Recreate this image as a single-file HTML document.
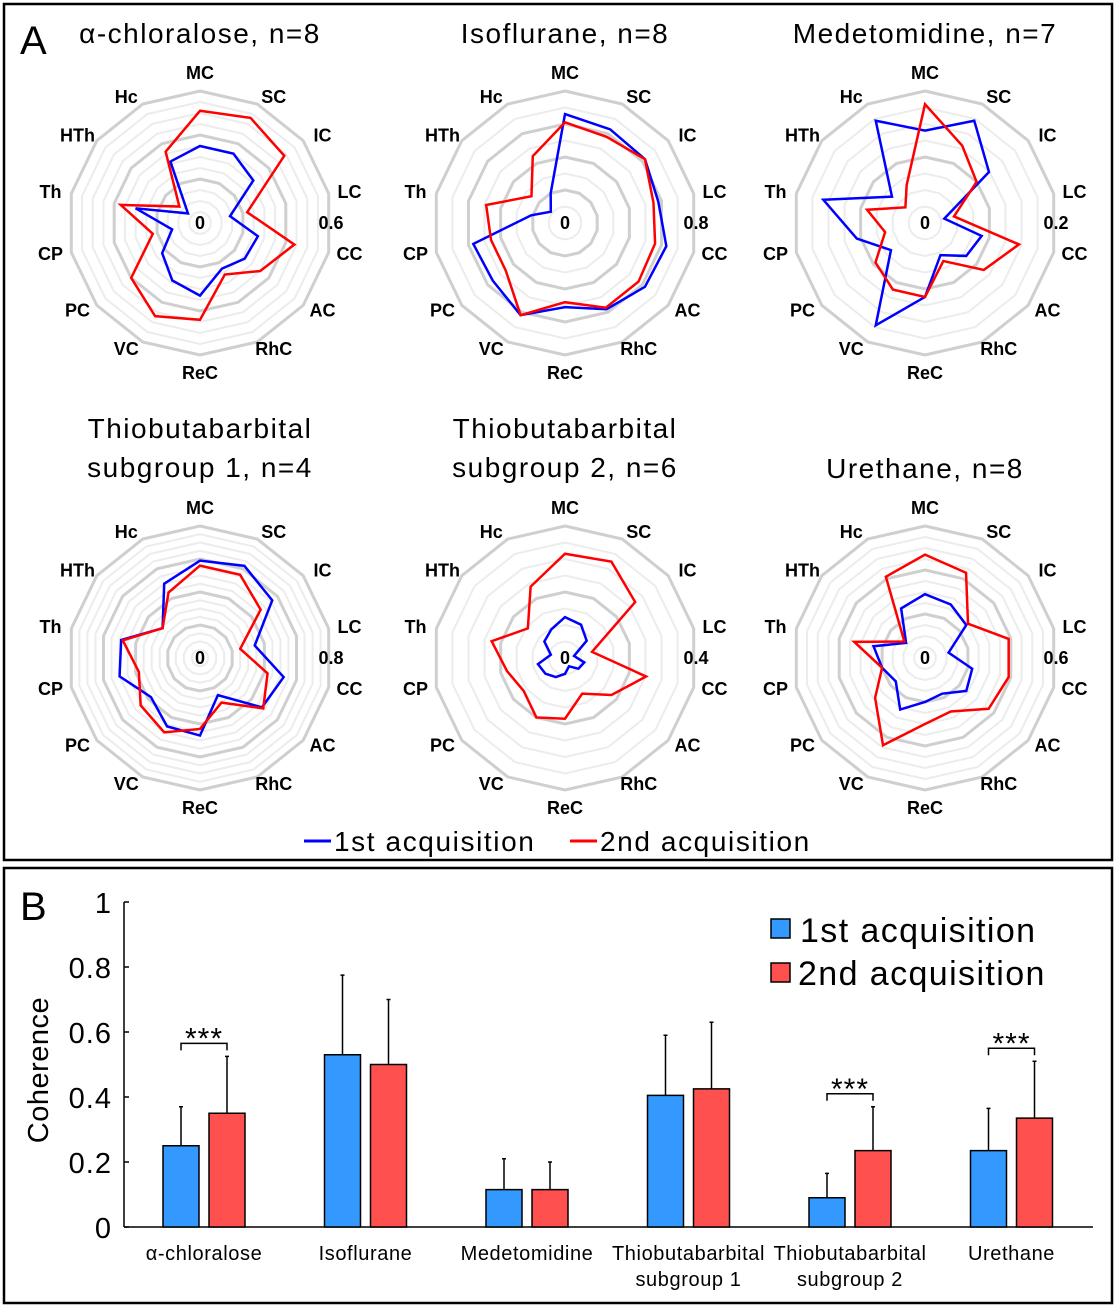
<!DOCTYPE html>
<html><head><meta charset="utf-8"><style>
body{margin:0;background:#fff;width:1118px;height:1310px;overflow:hidden;font-family:"Liberation Sans",Arial,sans-serif}
svg{display:block}
</style></head><body>
<svg id="fig" width="1118" height="1310" xmlns="http://www.w3.org/2000/svg" font-family="Liberation Sans, Arial, sans-serif">
<rect x="4" y="4" width="1108" height="856" fill="none" stroke="#000" stroke-width="2.5"/>
<rect x="4" y="868" width="1108" height="435" fill="none" stroke="#000" stroke-width="2.5"/>
<text x="20" y="54" font-size="40">A</text>
<text x="20" y="920" font-size="40">B</text>
<g id="radars"></g>
<g>
<line x1="304" y1="841" x2="331" y2="841" stroke="#0000ff" stroke-width="3"/>
<text x="334" y="851" font-size="28" letter-spacing="1.6">1st acquisition</text>
<line x1="570" y1="841" x2="597" y2="841" stroke="#ff0000" stroke-width="3"/>
<text x="600" y="851" font-size="28" letter-spacing="1.6">2nd acquisition</text>
</g>
<g id="bars"></g>
<g>
<rect x="771" y="919" width="19" height="19" fill="#3399ff" stroke="#000" stroke-width="1.5"/>
<text x="800" y="942" font-size="34" letter-spacing="1.4">1st acquisition</text>
<rect x="771" y="963" width="19" height="19" fill="#ff5050" stroke="#000" stroke-width="1.5"/>
<text x="798" y="985" font-size="34" letter-spacing="1.4">2nd acquisition</text>
</g>
</svg>
<script>
const NS="http://www.w3.org/2000/svg";
const regions=["MC","SC","IC","LC","CC","AC","RhC","ReC","VC","PC","CP","Th","HTh","Hc"];
const radarTitles=[["α-chloralose, n=8"],["Isoflurane, n=8"],["Medetomidine, n=7"],["Thiobutabarbital","subgroup 1, n=4"],["Thiobutabarbital","subgroup 2, n=6"],["Urethane, n=8"]];
const radarMax=[0.6,0.8,0.2,0.8,0.4,0.6];
const radarMinor=[0.05,0.1,0.025,0.05,0.05,0.05];
const radarMajor=[0.2,0.2,0.1,0.2,0.2,0.2];
const chlorFirst=[.35,.35,.31,.14,.27,.26,.23,.33,.29,.22,.13,.30,.07,.31];
const chlorSecond=[.51,.53,.49,.22,.44,.35,.26,.44,.47,.40,.22,.37,.12,.36];
const isoFirst=[.66,.63,.62,.58,.63,.62,.58,.51,.62,.56,.57,.21,.11,.20];
const isoSecond=[.61,.58,.62,.55,.56,.57,.57,.48,.62,.46,.46,.49,.26,.45];
const medFirst=[.14,.172,.124,.03,.088,.08,.054,.112,.172,.066,.106,.158,.064,.172];
const medSecond=[.18,.13,.10,.045,.146,.114,.064,.112,.112,.096,.062,.09,.038,.064];
const thio1First=[.59,.62,.56,.34,.52,.48,.25,.47,.46,.38,.50,.49,.29,.50];
const thio1Second=[.56,.56,.47,.25,.42,.49,.30,.43,.50,.46,.38,.48,.29,.44];
const thio2First=[.124,.112,.084,.028,.06,.052,.028,.048,.064,.076,.084,.044,.08,.096];
const thio2Second=[.316,.324,.272,.084,.252,.18,.12,.184,.2,.16,.18,.228,.144,.24];
const ureFirst=[.29,.27,.24,.11,.22,.24,.18,.20,.26,.17,.20,.24,.11,.25];
const ureSecond=[.47,.43,.25,.39,.39,.37,.27,.30,.44,.29,.20,.33,.12,.41];
const radarFirst=[chlorFirst,isoFirst,medFirst,thio1First,thio2First,ureFirst];
const radarSecond=[chlorSecond,isoSecond,medSecond,thio1Second,thio2Second,ureSecond];

function mk(tag,attrs,parent){const e=document.createElementNS(NS,tag);for(const k in attrs)e.setAttribute(k,attrs[k]);parent.appendChild(e);return e;}
const R=132, N=regions.length;
function ang(i){return i*2*Math.PI/N;}
function pt(cx,cy,r,i){return [cx+r*Math.sin(ang(i)),cy-r*Math.cos(ang(i))];}
function ring(cx,cy,r){let s=[];for(let i=0;i<N;i++){s.push(pt(cx,cy,r,i).join(","));}return s.join(" ");}
const radG=document.getElementById("radars");
const centers=[[200,223],[565,223],[925,223],[200,658],[565,658],[925,658]];
radarTitles.forEach((t,k)=>{
  const [cx,cy]=centers[k];const mx=radarMax[k];
  const g=mk("g",{},radG);
  
  
  const tt=mk("text",{x:cx,"text-anchor":"middle","font-size":"28","letter-spacing":"1.5"},g);
  
  
  if(t.length===1){tt.setAttribute("x",cx);tt.setAttribute("y",cy-180);tt.textContent=t[0];}
  else{mk("tspan",{x:cx,y:cy-220},tt).textContent=t[0];mk("tspan",{x:cx,y:cy-181},tt).textContent=t[1];}
  const nMinor=Math.round(mx/radarMinor[k]);const every=Math.round(radarMajor[k]/radarMinor[k]);
  for(let j=1;j<=nMinor;j++){
    if(j%every===0||j===nMinor)continue;
    const p=mk("polygon",{points:ring(cx,cy,R*j/nMinor),fill:"none",stroke:"#ececec","stroke-width":2},g);
    
    
  }
  for(let j=every;j<=nMinor;j+=every){
    const p=mk("polygon",{points:ring(cx,cy,R*j/nMinor),fill:"none",stroke:"#cfcfcf","stroke-width":3},g);
    
    
  }
  regions.forEach((r,i)=>{
    const s=Math.sin(ang(i)),c=Math.cos(ang(i));
    const x=cx+140*s+(Math.abs(s)>0.1?13*Math.sign(s):0);
    const y=cy-140*c-(Math.abs(c)>0.95?10*Math.sign(c):0);
    const l=mk("text",{x:x,y:y+6,"text-anchor":"middle","font-size":"18","font-weight":"bold"},g);
    
    
    l.textContent=r;
  });
  const z=mk("text",{x:cx,y:cy+6,"text-anchor":"middle","font-size":"18","font-weight":"bold"},g);
  
  
  z.textContent="0";
  const m=mk("text",{x:cx+131,y:cy+6,"text-anchor":"middle","font-size":"18","font-weight":"bold"},g);
  
  
  m.textContent=String(mx);
  [[radarFirst[k],"#0000ff","first"],[radarSecond[k],"#ff0000","second"]].forEach(([vals,col,nm])=>{
    const pts=vals.map((v,i)=>pt(cx,cy,R*v/mx,i).join(",")).join(" ");
    const p=mk("polygon",{points:pts,fill:"none",stroke:col,"stroke-width":2.5},g);
    
    
  });
});

// Bar chart
const barGroups=["α-chloralose","Isoflurane","Medetomidine","Thiobutabarbital|subgroup 1","Thiobutabarbital|subgroup 2","Urethane"];
const barFirst=[0.25,0.53,0.115,0.405,0.09,0.235];
const barSecond=[0.35,0.50,0.115,0.425,0.235,0.335];
const errFirst=[0.12,0.245,0.095,0.185,0.075,0.13];
const errSecond=[0.175,0.20,0.085,0.205,0.135,0.175];
const sigGroups=[0,4,5];
const yTicks=[0,0.2,0.4,0.6,0.8,1];
const yTickLabels=["0","0.2","0.4","0.6","0.8","1"];
const y0=1227,y1=902,ax=124;
const yS=v=>y0+(y1-y0)*v;
const xS=i=>204+i*161.5;
const bg=document.getElementById("bars");
const axisG=mk("g",{},bg);


mk("line",{x1:ax,y1:y1,x2:ax,y2:y0,stroke:"#000","stroke-width":1.5},axisG);
yTicks.forEach((v,i)=>{
  mk("line",{x1:ax,y1:yS(v),x2:ax+5,y2:yS(v),stroke:"#000","stroke-width":1.5},axisG);
  const t=mk("text",{x:ax-12,y:yS(v)+11,"text-anchor":"end","font-size":"29","letter-spacing":"1"},axisG);
  
  
  t.textContent=yTickLabels[i];
});
const xa=mk("line",{x1:ax,y1:y0,x2:1093,y2:y0,stroke:"#000","stroke-width":1.5},bg);


const yt=mk("text",{x:0,y:0,"text-anchor":"middle","font-size":"29","letter-spacing":"0.5",transform:"translate(48,1070) rotate(-90)"},bg);


yt.textContent="Coherence";
barGroups.forEach((gname,i)=>{
  const c=xS(i);
  [[barFirst[i],errFirst[i],c-41,"#3399ff","first"],[barSecond[i],errSecond[i],c+5,"#ff5050","second"]].forEach(([v,e,x,col,nm])=>{
    const ex=x+18;
    const el=mk("line",{x1:ex,y1:yS(v),x2:ex,y2:yS(v+e),stroke:"#000","stroke-width":1.5},bg);
    
    
    mk("line",{x1:ex-2,y1:yS(v+e),x2:ex+2,y2:yS(v+e),stroke:"#000","stroke-width":1.5},bg);
    const r=mk("rect",{x:x,y:yS(v),width:36,height:y0-yS(v),fill:col,stroke:"#000","stroke-width":1.5},bg);
    
    
  });
  const parts=gname.split("|");
  const lt=mk("text",{x:c,"text-anchor":"middle","font-size":"20","letter-spacing":"0.6"},bg);
  
  
  parts.forEach((p,j)=>{mk("tspan",{x:c,y:1260+j*26},lt).textContent=p;});
  if(sigGroups.includes(i)){
    const by=Math.min(yS(barSecond[i]+errSecond[i])-13, yS(barFirst[i]+errFirst[i])-20);
    const s=mk("path",{d:`M${c-23},${by+7} V${by} H${c+23} V${by+7}`,fill:"none",stroke:"#000","stroke-width":1.5},bg);
    
    
    const st=mk("text",{x:c,y:by+5,"text-anchor":"middle","font-size":"30","letter-spacing":"1"},bg);
    
    
    st.textContent="***";
  }
});
</script>
</body></html>
